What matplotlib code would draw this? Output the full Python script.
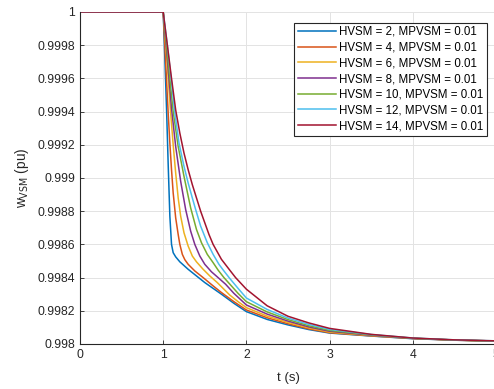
import matplotlib
matplotlib.use("Agg")
import matplotlib.pyplot as plt

# curves, one (t, w) list per H value
tail_t = [2.25, 2.5, 2.75, 3.0, 3.5, 4.0, 4.5, 5.0]

t_h2 = [0, 1.0, 1.02, 1.04, 1.06, 1.08, 1.10, 1.12, 1.15, 1.20, 1.30, 1.40, 1.50, 1.70,
        1.85, 2.0] + tail_t
w_h2 = [1, 1, 0.99972, 0.99942, 0.99908, 0.99877, 0.9986, 0.99855, 0.998525, 0.998495,
        0.99845, 0.99841, 0.99837, 0.9983, 0.998245, 0.998195,
        0.998148, 0.998115, 0.998087, 0.998066, 0.998048, 0.998032, 0.998023, 0.998017]

t_h4 = [0, 1.0, 1.02, 1.04, 1.06, 1.08, 1.10, 1.12, 1.15, 1.18, 1.20, 1.23, 1.26, 1.30,
        1.38, 1.48, 1.60, 1.70, 1.85, 2.0] + tail_t
w_h4 = [1, 1, 0.99979, 0.99959, 0.99939, 0.99921, 0.99905, 0.99891, 0.99876, 0.99866,
        0.9986, 0.99854, 0.998508, 0.99848, 0.99844, 0.9984, 0.99835, 0.99831, 0.998255,
        0.998205,
        0.998158, 0.998122, 0.998091, 0.998068, 0.998049, 0.998033, 0.998023, 0.998017]

t_h6 = [0, 1.0, 1.03, 1.06, 1.09, 1.12, 1.15, 1.18, 1.21, 1.25, 1.30, 1.35, 1.40, 1.48,
        1.56, 1.65, 1.80, 1.90, 2.0] + tail_t
w_h6 = [1, 1, 0.9998, 0.9996, 0.99939, 0.9992, 0.99903, 0.99888, 0.99877, 0.99867,
        0.99859, 0.99853, 0.998495, 0.99845, 0.99841, 0.99837, 0.998295, 0.998255, 0.998219,
        0.998168, 0.99813, 0.998097, 0.998072, 0.998051, 0.998034, 0.998024, 0.998018]

t_h8 = [0, 1.0, 1.035, 1.07, 1.10, 1.15, 1.21, 1.27, 1.33, 1.38, 1.44, 1.50, 1.58, 1.66,
        1.75, 1.85, 2.0] + tail_t
w_h8 = [1, 1, 0.9998, 0.9996, 0.99942, 0.99919, 0.99898, 0.99881, 0.99868, 0.9986,
        0.99853, 0.99848, 0.998435, 0.9984, 0.99836, 0.998305, 0.998235,
        0.99818, 0.998138, 0.998103, 0.998077, 0.998053, 0.998034, 0.998024, 0.998018]

t_h10 = [0, 1.0, 1.04, 1.08, 1.12, 1.18, 1.25, 1.33, 1.40, 1.46, 1.53, 1.60, 1.66, 1.73,
         1.82, 1.90, 2.0] + tail_t
w_h10 = [1, 1, 0.9998, 0.9996, 0.9994, 0.99919, 0.99901, 0.99882, 0.99869, 0.99861,
         0.99854, 0.99849, 0.998445, 0.9984, 0.99835, 0.998305, 0.998255,
         0.998193, 0.998147, 0.99811, 0.998082, 0.998055, 0.998035, 0.998024, 0.998018]

t_h12 = [0, 1.0, 1.05, 1.095, 1.135, 1.19, 1.25, 1.30, 1.35, 1.39, 1.45, 1.53, 1.60, 1.67,
         1.73, 1.80, 1.90, 2.0] + tail_t
w_h12 = [1, 1, 0.9998, 0.9996, 0.99941, 0.99921, 0.99907, 0.99897, 0.99888, 0.99881,
         0.99871, 0.99861, 0.99854, 0.99848, 0.99844, 0.998395, 0.998335, 0.998277,
         0.998208, 0.998156, 0.998118, 0.998088, 0.998057, 0.998036, 0.998025, 0.998019]

t_h14 = [0, 1.0, 1.05, 1.10, 1.15, 1.20, 1.25, 1.30, 1.35, 1.40, 1.45, 1.50, 1.55, 1.60,
         1.70, 1.80, 1.87, 2.0] + tail_t
w_h14 = [1, 1, 0.9998, 0.9996, 0.99941, 0.99927, 0.99915, 0.99905, 0.99896, 0.99888,
         0.9988, 0.99873, 0.99866, 0.9986, 0.99851, 0.998445, 0.9984, 0.99833,
         0.99823, 0.998167, 0.998127, 0.998094, 0.998058, 0.998036, 0.998025, 0.998019]

labels = ["HVSM = 2, MPVSM = 0.01", "HVSM = 4, MPVSM = 0.01", "HVSM = 6, MPVSM = 0.01",
          "HVSM = 8, MPVSM = 0.01", "HVSM = 10, MPVSM = 0.01", "HVSM = 12, MPVSM = 0.01",
          "HVSM = 14, MPVSM = 0.01"]
colores = ["#0072BD", "#D95319", "#EDB120", "#7E2F8E", "#77AC30", "#4DBEEE", "#A2142F"]

yticks = [0.998, 0.9982, 0.9984, 0.9986, 0.9988, 0.999, 0.9992, 0.9994, 0.9996, 0.9998, 1]
ytick_labels = ["0.998", "0.9982", "0.9984", "0.9986", "0.9988", "0.999", "0.9992",
                "0.9994", "0.9996", "0.9998", "1"]
xticks = [0, 1, 2, 3, 4, 5]

plt.rcParams['font.family'] = ['Liberation Sans', 'DejaVu Sans']

fig = plt.figure(figsize=(4.94, 3.89), dpi=100)
ax = fig.add_axes([80 / 494, 45 / 389, 416 / 494, 332 / 389])

curvas = [(t_h2, w_h2), (t_h4, w_h4), (t_h6, w_h6), (t_h8, w_h8),
          (t_h10, w_h10), (t_h12, w_h12), (t_h14, w_h14)]
for (t, w), lab, c in zip(curvas, labels, colores):
    ax.plot(t, w, color=c, lw=1.1, label=lab, solid_joinstyle="round")

ax.set_xlim(0, 5)
ax.set_ylim(0.998, 1)
ax.set_xticks(xticks)
ax.set_yticks(yticks)
ax.set_yticklabels(ytick_labels)
ax.grid(True, color="#e3e3e3", lw=0.7)
ax.set_axisbelow(True)
for s in ["top", "right"]:
    ax.spines[s].set_visible(False)
for s in ["left", "bottom"]:
    ax.spines[s].set_color("#262626")
    ax.spines[s].set_linewidth(0.8)
ax.tick_params(direction="in", length=3, colors="#262626", width=0.6)
ax.tick_params(axis="both", labelcolor="#262626", labelsize=8.8)

ax.set_xlabel("t (s)", color="#262626", fontsize=9.5, labelpad=8)
ax.set_ylabel("w$_{\\mathrm{VSM}}$ (pu)", color="#262626", fontsize=9.8, labelpad=5)

leg = ax.legend(loc="upper right", bbox_to_anchor=(487 / 494, 1 - 22.5 / 389),
                bbox_transform=fig.transFigure, borderaxespad=0, fancybox=False,
                framealpha=1, edgecolor="#262626", handlelength=3.3, handletextpad=0.3,
                labelspacing=0.32, borderpad=0.3, fontsize=8.3)
leg.get_frame().set_linewidth(0.8)

fig.savefig("out.png", dpi=100)
